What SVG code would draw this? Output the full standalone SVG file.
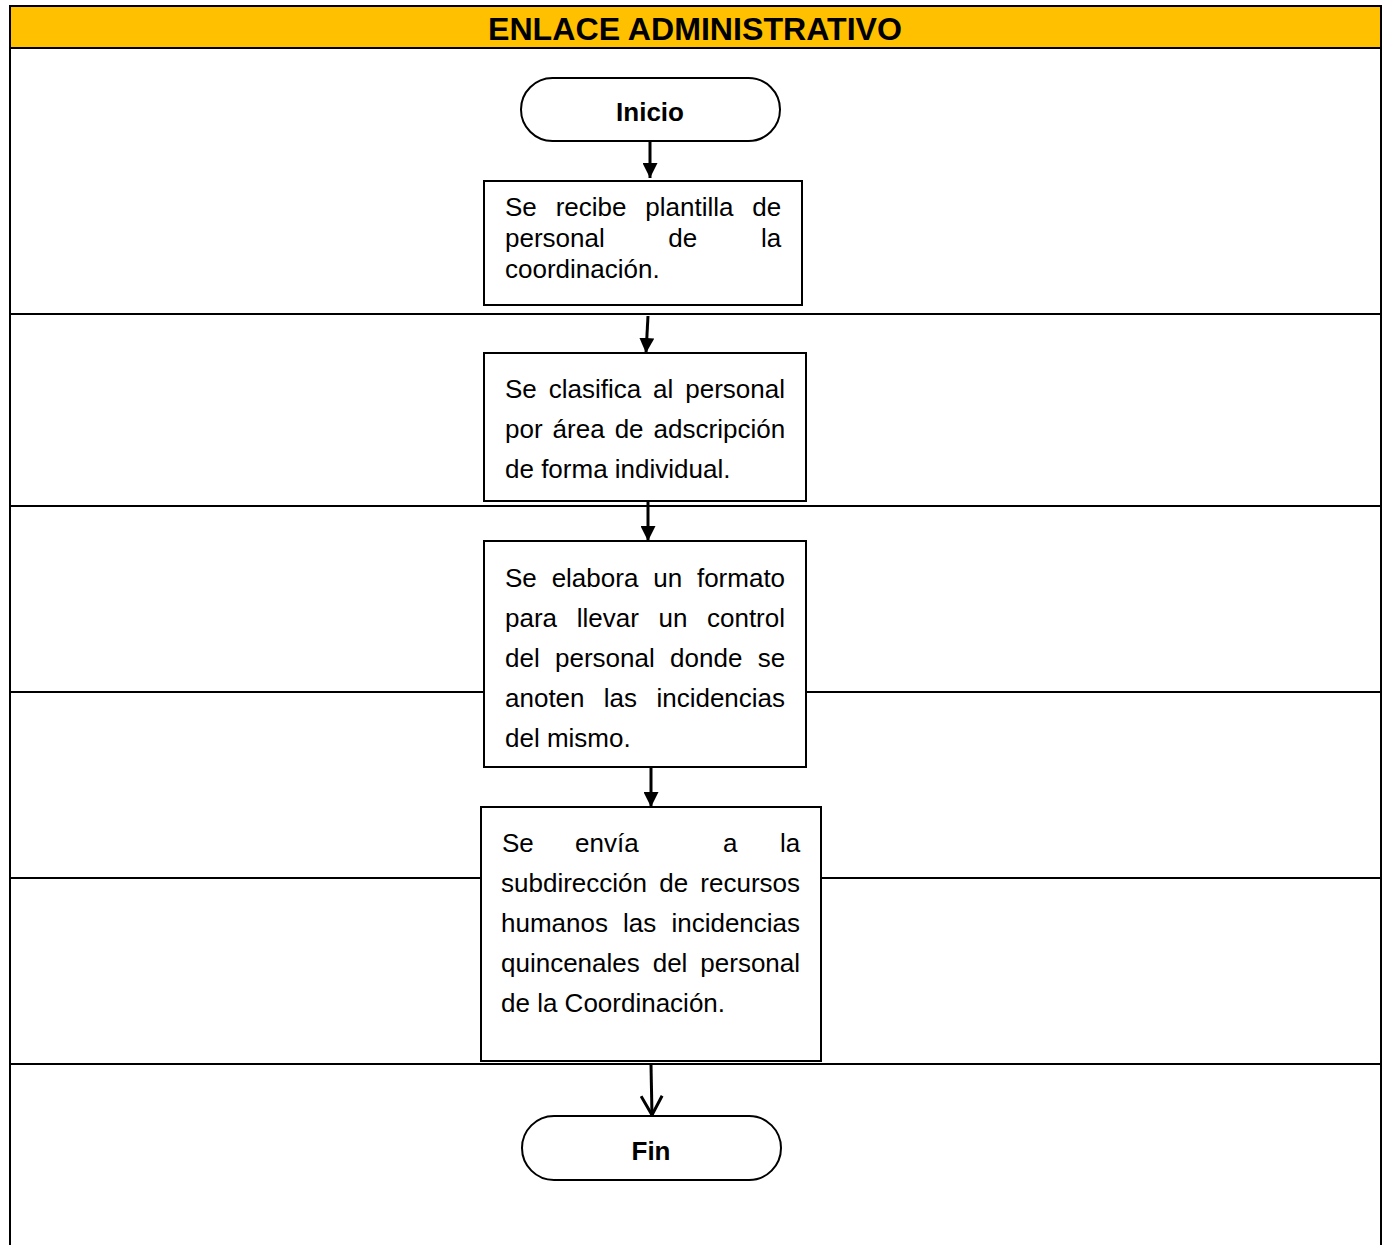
<svg xmlns="http://www.w3.org/2000/svg" width="1382" height="1245" viewBox="0 0 1382 1245">
<style>
.frame{fill:none;stroke:#000;stroke-width:2}
.lane{stroke:#000;stroke-width:2}
.box{fill:#fff;stroke:#000;stroke-width:2}
.t{font-family:"Liberation Sans",Arial,sans-serif;font-size:26px;fill:#000}
.b{font-family:"Liberation Sans",Arial,sans-serif;font-size:26px;font-weight:bold;fill:#000}
.c{stroke:#000;stroke-width:3;fill:none}
</style>
<defs>
<marker id="ah" viewBox="0 0 15 15" refX="15" refY="7.5" markerWidth="15" markerHeight="15" markerUnits="userSpaceOnUse" orient="auto">
<path d="M0,0 L15,7.5 L0,15 Z" fill="#000"/>
</marker>
<marker id="av" viewBox="0 0 22 24" refX="20" refY="12" markerWidth="22" markerHeight="24" markerUnits="userSpaceOnUse" orient="auto">
<path d="M1,1.5 L20,12 L1,22.5" fill="none" stroke="#000" stroke-width="3"/>
</marker>
</defs>
<rect x="0" y="0" width="1382" height="1245" fill="#fff"/>
<g id="header">
<rect x="10" y="6" width="1371" height="42" fill="#FFC000" stroke="#000" stroke-width="2"/>
<text class="b" x="695" y="40" text-anchor="middle" textLength="414" lengthAdjust="spacingAndGlyphs" style="font-size:31px">ENLACE ADMINISTRATIVO</text>
</g>
<g id="lanes">
<line class="lane" x1="10" y1="6" x2="10" y2="1245"/>
<line class="lane" x1="1381" y1="6" x2="1381" y2="1245"/>
<line class="lane" x1="10" y1="314" x2="1381" y2="314"/>
<line class="lane" x1="10" y1="506" x2="1381" y2="506"/>
<line class="lane" x1="10" y1="692" x2="1381" y2="692"/>
<line class="lane" x1="10" y1="878" x2="1381" y2="878"/>
<line class="lane" x1="10" y1="1064" x2="1381" y2="1064"/>
</g>
<g id="connectors">
<line class="c" x1="650" y1="141" x2="650" y2="178" marker-end="url(#ah)"/>
<line class="c" x1="648" y1="316" x2="646" y2="353" marker-end="url(#ah)"/>
<line class="c" x1="648" y1="501" x2="648" y2="541" marker-end="url(#ah)"/>
<line class="c" x1="651" y1="767" x2="651" y2="807" marker-end="url(#ah)"/>
<line class="c" x1="651" y1="1065" x2="652" y2="1115" marker-end="url(#av)"/>
</g>
<g id="inicio">
<rect class="box" x="521" y="78" width="259" height="63" rx="31.5" ry="31.5"/>
<text class="b" x="650" y="121" text-anchor="middle">Inicio</text>
</g>
<g id="paso1">
<rect class="box" x="484" y="181" width="318" height="124"/>
<text class="t" x="505" y="216" word-spacing="11.6">Se recibe plantilla de</text>
<text class="t" x="505" y="247" word-spacing="56.4">personal de la</text>
<text class="t" x="505" y="278">coordinación.</text>
</g>
<g id="paso2">
<rect class="box" x="484" y="353" width="322" height="148"/>
<text class="t" x="505" y="398" word-spacing="4.7">Se clasifica al personal</text>
<text class="t" x="505" y="438" word-spacing="2.8">por área de adscripción</text>
<text class="t" x="505" y="478">de forma individual.</text>
</g>
<g id="paso3">
<rect class="box" x="484" y="541" width="322" height="226"/>
<text class="t" x="505" y="587" word-spacing="7.6">Se elabora un formato</text>
<text class="t" x="505" y="627" word-spacing="12.4">para llevar un control</text>
<text class="t" x="505" y="667" word-spacing="8.1">del personal donde se</text>
<text class="t" x="505" y="707" word-spacing="12.1">anoten las incidencias</text>
<text class="t" x="505" y="747">del mismo.</text>
</g>
<g id="paso4">
<rect class="box" x="481" y="807" width="340" height="254"/>
<text class="t" y="852"><tspan x="502">Se</tspan><tspan x="575">envía</tspan><tspan x="723">a</tspan><tspan x="780">la</tspan></text>
<text class="t" x="501" y="892" word-spacing="5">subdirección de recursos</text>
<text class="t" x="501" y="932" word-spacing="7.9">humanos las incidencias</text>
<text class="t" x="501" y="972" word-spacing="5.7">quincenales del personal</text>
<text class="t" x="501" y="1012">de la Coordinación.</text>
</g>
<g id="fin">
<rect class="box" x="522" y="1116" width="259" height="64" rx="32" ry="32"/>
<text class="b" x="651" y="1160" text-anchor="middle">Fin</text>
</g>
</svg>
